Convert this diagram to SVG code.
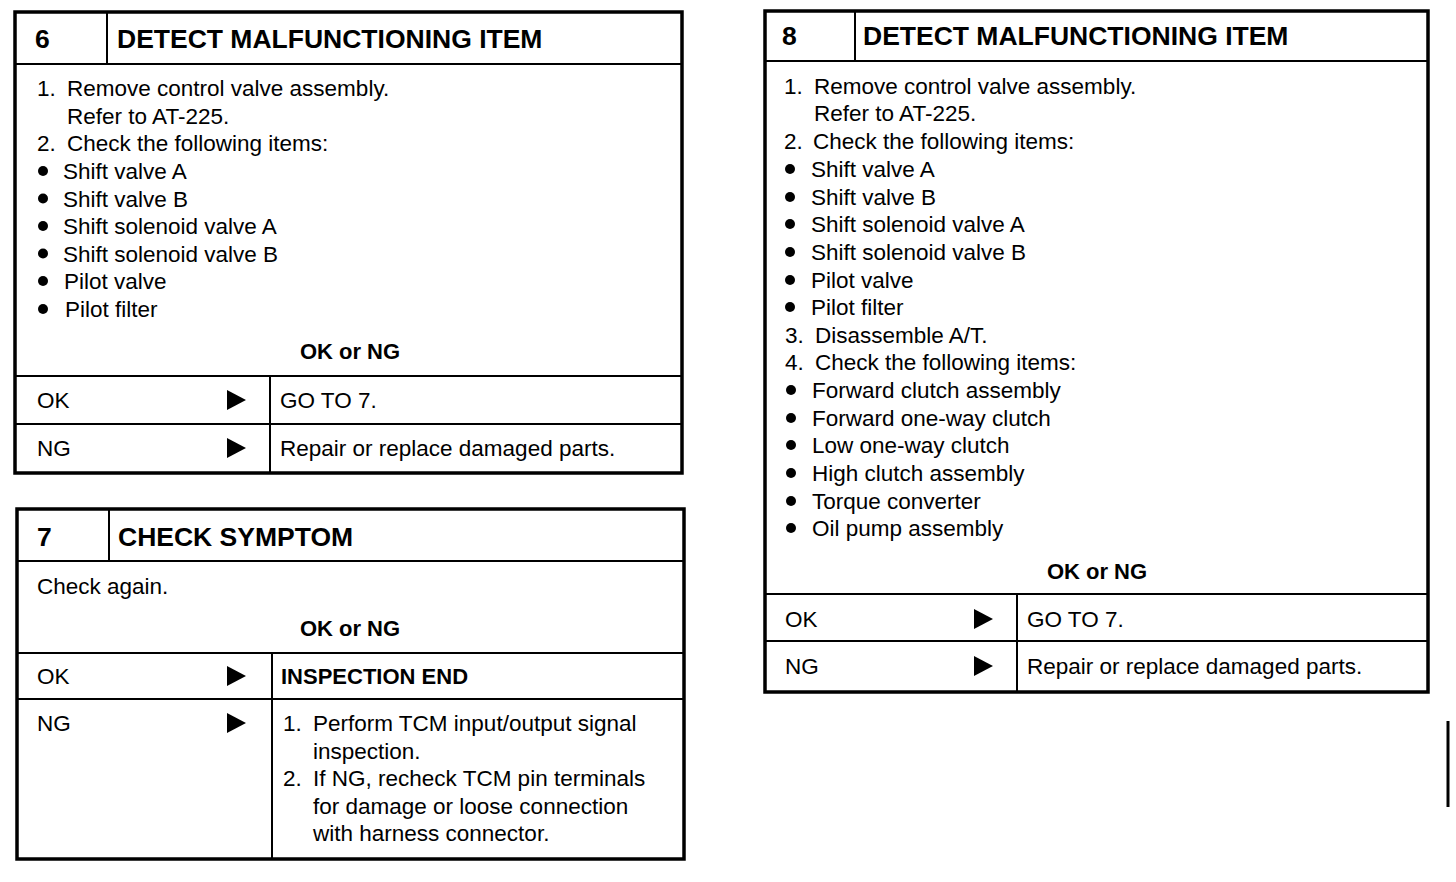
<svg xmlns="http://www.w3.org/2000/svg" width="1456" height="882" viewBox="0 0 1456 882">
<style>
.outer{fill:none;stroke:#000;stroke-width:3.5}
.ln{stroke:#000;stroke-width:2;fill:none}
.t{font-family:"Liberation Sans",Arial,sans-serif;font-size:22.5px;fill:#000}
.b{font-family:"Liberation Sans",Arial,sans-serif;font-size:22px;font-weight:bold;fill:#000}
.h{font-family:"Liberation Sans",Arial,sans-serif;font-size:26.5px;font-weight:bold;fill:#000}
.c{text-anchor:middle}
</style>
<defs>
<path id="arr" d="M0,-10 L19,0 L0,10 Z" fill="#000"/>
<circle id="dot" r="5" fill="#000"/>
</defs>
<rect width="1456" height="882" fill="#fff"/>

<g id="box6">
<rect class="outer" x="15" y="12" width="667" height="461"/>
<line class="ln" x1="107" y1="12" x2="107" y2="64"/>
<line class="ln" x1="15" y1="64" x2="682" y2="64"/>
<line class="ln" x1="15" y1="376" x2="682" y2="376"/>
<line class="ln" x1="15" y1="424" x2="682" y2="424"/>
<line class="ln" x1="270" y1="376" x2="270" y2="473"/>
<text class="h" x="35" y="47.5">6</text>
<text class="h" x="117" y="47.5">DETECT MALFUNCTIONING ITEM</text>
<text class="t" x="37" y="96">1.</text><text class="t" x="67" y="96">Remove control valve assembly.</text>
<text class="t" x="67" y="123.5">Refer to AT-225.</text>
<text class="t" x="37" y="151">2.</text><text class="t" x="67" y="151">Check the following items:</text>
<use href="#dot" x="43" y="171"/><text class="t" x="63" y="179">Shift valve A</text>
<use href="#dot" x="43" y="198.5"/><text class="t" x="63" y="206.5">Shift valve B</text>
<use href="#dot" x="43" y="226"/><text class="t" x="63" y="234">Shift solenoid valve A</text>
<use href="#dot" x="43" y="253.5"/><text class="t" x="63" y="261.5">Shift solenoid valve B</text>
<use href="#dot" x="43" y="281"/><text class="t" x="64" y="289">Pilot valve</text>
<use href="#dot" x="43" y="309"/><text class="t" x="65" y="317">Pilot filter</text>
<text class="b c" x="350" y="359">OK or NG</text>
<text class="t" x="37" y="408">OK</text><use href="#arr" x="227" y="400"/>
<text class="t" x="280" y="408">GO TO 7.</text>
<text class="t" x="37" y="456">NG</text><use href="#arr" x="227" y="448"/>
<text class="t" x="280" y="456">Repair or replace damaged parts.</text>
</g>

<g id="box7">
<rect class="outer" x="17" y="509" width="667" height="350"/>
<line class="ln" x1="109" y1="509" x2="109" y2="561"/>
<line class="ln" x1="17" y1="561" x2="684" y2="561"/>
<line class="ln" x1="17" y1="653" x2="684" y2="653"/>
<line class="ln" x1="17" y1="699" x2="684" y2="699"/>
<line class="ln" x1="272" y1="653" x2="272" y2="859"/>
<text class="h" x="37" y="545.5">7</text>
<text class="h" x="118" y="545.5">CHECK SYMPTOM</text>
<text class="t" x="37" y="594">Check again.</text>
<text class="b c" x="350" y="636">OK or NG</text>
<text class="t" x="37" y="684">OK</text><use href="#arr" x="227" y="676"/>
<text class="b" x="281" y="684">INSPECTION END</text>
<text class="t" x="37" y="731">NG</text><use href="#arr" x="227" y="723"/>
<text class="t" x="283" y="731">1.</text><text class="t" x="313" y="731">Perform TCM input/output signal</text>
<text class="t" x="313" y="758.5">inspection.</text>
<text class="t" x="283" y="786">2.</text><text class="t" x="313" y="786">If NG, recheck TCM pin terminals</text>
<text class="t" x="313" y="813.5">for damage or loose connection</text>
<text class="t" x="313" y="841">with harness connector.</text>
</g>

<g id="box8">
<rect class="outer" x="765" y="11" width="663" height="681"/>
<line class="ln" x1="855" y1="11" x2="855" y2="61"/>
<line class="ln" x1="765" y1="61" x2="1428" y2="61"/>
<line class="ln" x1="765" y1="594" x2="1428" y2="594"/>
<line class="ln" x1="765" y1="641" x2="1428" y2="641"/>
<line class="ln" x1="1017" y1="594" x2="1017" y2="692"/>
<text class="h" x="782" y="44.5">8</text>
<text class="h" x="863" y="44.5">DETECT MALFUNCTIONING ITEM</text>
<text class="t" x="784" y="94">1.</text><text class="t" x="814" y="94">Remove control valve assembly.</text>
<text class="t" x="814" y="121">Refer to AT-225.</text>
<text class="t" x="784" y="149">2.</text><text class="t" x="813" y="149">Check the following items:</text>
<use href="#dot" x="790" y="169"/><text class="t" x="811" y="177">Shift valve A</text>
<use href="#dot" x="790" y="197"/><text class="t" x="811" y="205">Shift valve B</text>
<use href="#dot" x="790" y="224"/><text class="t" x="811" y="232">Shift solenoid valve A</text>
<use href="#dot" x="790" y="252"/><text class="t" x="811" y="260">Shift solenoid valve B</text>
<use href="#dot" x="790" y="280"/><text class="t" x="811" y="288">Pilot valve</text>
<use href="#dot" x="790" y="307"/><text class="t" x="811" y="315">Pilot filter</text>
<text class="t" x="785" y="343">3.</text><text class="t" x="815" y="343">Disassemble A/T.</text>
<text class="t" x="785" y="370">4.</text><text class="t" x="815" y="370">Check the following items:</text>
<use href="#dot" x="791" y="390"/><text class="t" x="812" y="398">Forward clutch assembly</text>
<use href="#dot" x="791" y="418"/><text class="t" x="812" y="426">Forward one-way clutch</text>
<use href="#dot" x="791" y="445"/><text class="t" x="812" y="453">Low one-way clutch</text>
<use href="#dot" x="791" y="473"/><text class="t" x="812" y="481">High clutch assembly</text>
<use href="#dot" x="791" y="501"/><text class="t" x="812" y="509">Torque converter</text>
<use href="#dot" x="791" y="528"/><text class="t" x="812" y="536">Oil pump assembly</text>
<text class="b c" x="1097" y="579">OK or NG</text>
<text class="t" x="785" y="627">OK</text><use href="#arr" x="974" y="619"/>
<text class="t" x="1027" y="627">GO TO 7.</text>
<text class="t" x="785" y="674">NG</text><use href="#arr" x="974" y="666"/>
<text class="t" x="1027" y="674">Repair or replace damaged parts.</text>
</g>

<line x1="1448" y1="721" x2="1448" y2="807" stroke="#000" stroke-width="3"/>
</svg>
